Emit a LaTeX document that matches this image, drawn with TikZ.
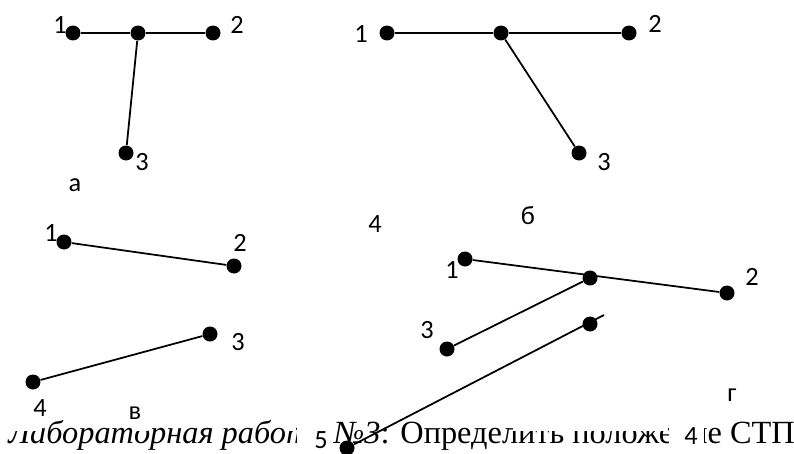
\documentclass[tikz,border=0pt]{standalone}
\usepackage{fontspec}
\setmainfont{Liberation Serif}
\newfontfamily\labelfont{Carlito}

\begin{document}
\begin{tikzpicture}[x=0.02cm,y=-0.02cm,
   vtx/.style={circle,fill=black,inner sep=0pt,minimum size=0.3cm},
   lbl/.style={font=\fontsize{15}{17}\selectfont\labelfont,inner sep=0pt},
   seg/.style={line width=1pt}]
  \useasboundingbox (0,0) rectangle (794,453);

  % caption line, partly hidden under the labels
  \begin{scope}[even odd rule]
    \clip (0,395) rectangle (794,453)
      (6,395) rectangle (42,431) (132,395) rectangle (148,431)
      (284,395) rectangle (296,431) (296,395) rectangle (333,453)
      (512,395) rectangle (668,431) (668,395) rectangle (704,453);
    \node[anchor=base west,inner sep=0pt,font=\fontsize{18.4}{20}\selectfont] (cap) at (8,443)
      {\textit{Лабораторная работа №3}: Определить положение СТП};
  \end{scope}

  % а
  \node[vtx] (a1) at (73,33) {};
  \node[vtx] (am) at (138,33) {};
  \node[vtx] (a2) at (213,33) {};
  \node[vtx] (a3) at (126,153) {};
  \draw[seg] (a1) -- (am) -- (a2);
  \draw[seg] (am) -- (a3);
  \node[lbl] (la1) at (60,25) {1};
  \node[lbl] (la2) at (237,25) {2};
  \node[lbl] (la3) at (142,162) {3};
  \node[lbl] (ta) at (75,185) {а};

  % б
  \node[vtx] (b1) at (387,33) {};
  \node[vtx] (bm) at (501,33) {};
  \node[vtx] (b2) at (629,33) {};
  \node[vtx] (b3) at (579,153) {};
  \draw[seg] (b1) -- (bm) -- (b2);
  \draw[seg] (bm) -- (b3);
  \node[lbl] (lb1) at (361,34) {1};
  \node[lbl] (lb2) at (655,24) {2};
  \node[lbl] (lb3) at (604,162) {3};
  \node[lbl] (tb) at (528,216) {б};
  \node[lbl] (lx4) at (375,224) {4};

  % в
  \node[vtx] (v1) at (64,242) {};
  \node[vtx] (v2) at (234,266) {};
  \node[vtx] (v3) at (210,334) {};
  \node[vtx] (v4) at (33,382) {};
  \draw[seg] (v1) -- (v2);
  \draw[seg] (v4) -- (v3);
  \node[lbl] (lv1) at (51,233) {1};
  \node[lbl] (lv2) at (240,243) {2};
  \node[lbl] (lv3) at (238,342) {3};
  \node[lbl] (lv4) at (40,408) {4};
  \node[lbl] (tv) at (135,413) {в};

  % г
  \node[vtx] (g1) at (465,259) {};
  \node[vtx] (gm) at (590,278) {};
  \node[vtx] (g2) at (727,293) {};
  \node[vtx] (g3) at (447,349) {};
  \node[vtx] (g4) at (590,324) {};
  \node[vtx] (g5) at (347,448) {};
  \coordinate (gend) at (604,315);
  \draw[seg] (g1) -- (g2);
  \draw[seg] (g3) -- (gm);
  \draw[seg] (g5) -- (gend);
  \node[lbl] (lg1) at (452,270) {1};
  \node[lbl] (lg2) at (752,277) {2};
  \node[lbl] (lg3) at (427,330) {3};
  \node[lbl] (tg) at (732,395) {г};
  \node[lbl] (lg5) at (321,440) {5};
  \node[lbl] (lg4) at (691,436) {4};
\end{tikzpicture}
\end{document}
